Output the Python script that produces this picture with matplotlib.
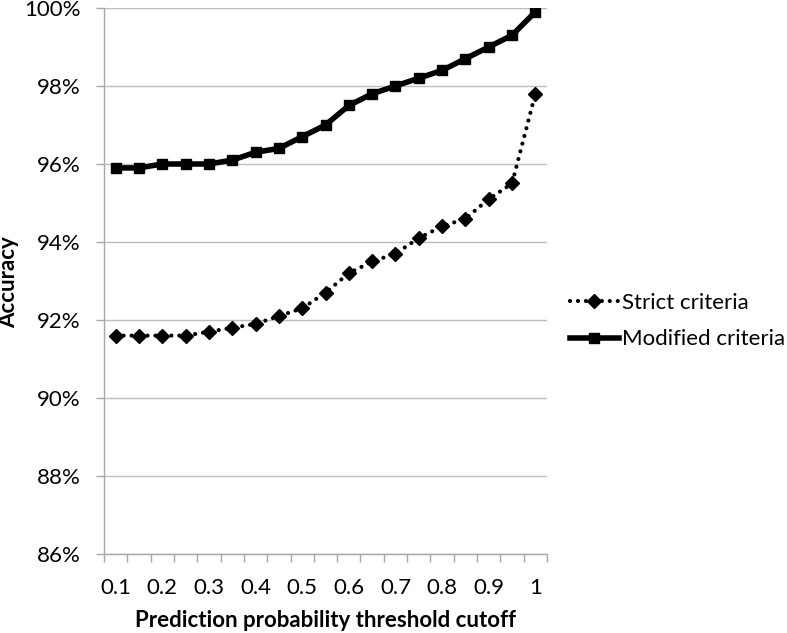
import matplotlib
matplotlib.use("Agg")
import matplotlib.pyplot as plt
from matplotlib.ticker import FixedLocator, FuncFormatter

# Threshold cutoffs (categories) and accuracy (%) for the two criteria
thresholds = ["0.1", "0.15", "0.2", "0.25", "0.3", "0.35", "0.4", "0.45", "0.5", "0.55",
              "0.6", "0.65", "0.7", "0.75", "0.8", "0.85", "0.9", "0.95", "1"]
strict = [91.6, 91.6, 91.6, 91.6, 91.7, 91.8, 91.9, 92.1, 92.3, 92.7,
          93.2, 93.5, 93.7, 94.1, 94.4, 94.6, 95.1, 95.5, 97.8]
modified = [95.9, 95.9, 96.0, 96.0, 96.0, 96.1, 96.3, 96.4, 96.7, 97.0,
            97.5, 97.8, 98.0, 98.2, 98.4, 98.7, 99.0, 99.3, 99.9]
y_ticks = [86, 88, 90, 92, 94, 96, 98, 100]

plt.rcParams["font.family"] = ["Lato", "DejaVu Sans"]

W, H = 787, 633
fig = plt.figure(figsize=(W / 100, H / 100), dpi=100)
# plot area in pixels: x 104..547, y 8..554
ax = fig.add_axes([104 / W, 1 - 554 / H, (547 - 104) / W, (554 - 8) / H])

xs = list(range(len(thresholds)))
ax.plot(xs, strict, color="black", linestyle=(0, (0.01, 1.9)), linewidth=3,
        dash_capstyle="round", marker="D", markersize=7, label="Strict criteria")
ax.plot(xs, modified, color="black", linestyle="-", linewidth=4,
        marker="s", markersize=7.5, label="Modified criteria")

ax.set_xlim(-0.5, len(thresholds) - 0.5)
ax.set_ylim(86, 100)

# y axis
ax.set_yticks(y_ticks)
ax.yaxis.set_major_formatter(FuncFormatter(lambda v, p: f"{v:.0f}%"))
ax.grid(axis="y", color="#bdbdbd", linewidth=1)
ax.set_axisbelow(True)

# x axis: tick marks between categories, labels on every other category
ax.xaxis.set_major_locator(FixedLocator([i - 0.5 for i in range(len(thresholds) + 1)]))
ax.xaxis.set_major_formatter(FuncFormatter(lambda v, p: ""))
ax.xaxis.set_minor_locator(FixedLocator(xs[::2]))
ax.xaxis.set_minor_formatter(FuncFormatter(lambda v, p: thresholds[int(round(v))]))
ax.tick_params(axis="x", which="major", length=6, color="#a6a6a6", width=1)
ax.tick_params(axis="x", which="minor", length=0, pad=17, labelsize=16)
ax.tick_params(axis="y", length=6, color="#a6a6a6", width=1, labelsize=16, pad=11)

for s in ["top", "right"]:
    ax.spines[s].set_visible(False)
for s in ["left", "bottom"]:
    ax.spines[s].set_color("#a6a6a6")
    ax.spines[s].set_linewidth(1)

ax.set_xlabel("Prediction probability threshold cutoff", fontsize=16,
              fontweight="bold", labelpad=9)
fig.text(9 / W, 1 - 282 / H, "Accuracy", fontsize=16, fontweight="bold",
         rotation=90, ha="center", va="center")

fig.legend(loc="center left", bbox_to_anchor=(570 / W, 1 - 321 / H),
           frameon=False, fontsize=16, handlelength=2.2, handletextpad=0.15,
           labelspacing=0.75, borderaxespad=0, borderpad=0)

fig.savefig("out.png", dpi=100)
